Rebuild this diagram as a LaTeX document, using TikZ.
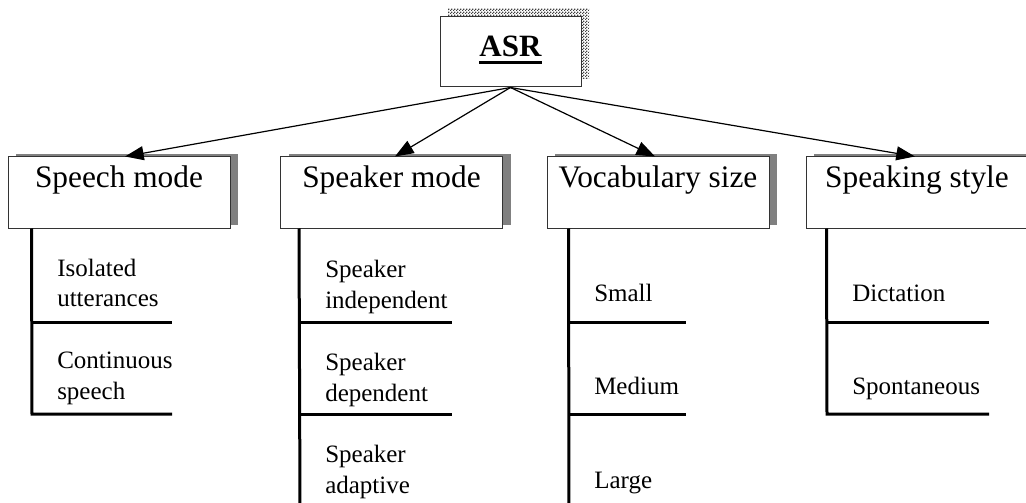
\documentclass[tikz,border=0pt]{standalone}
\usepackage{fontspec}
\setmainfont{Liberation Serif}
\usetikzlibrary{shadows,patterns.meta,arrows.meta,calc}

% fine checkerboard used for the shadow of the root box
\tikzdeclarepattern{
  name=ditherchecks,
  type=uncolored,
  bounding box={(0pt,0pt) and (2.25pt,2.25pt)},
  tile size={(2.25pt,2.25pt)},
  code={
    \pgfpathrectangle{\pgfpointorigin}{\pgfpoint{1.125pt}{1.125pt}}
    \pgfpathrectangle{\pgfpoint{1.125pt}{1.125pt}}{\pgfpoint{1.125pt}{1.125pt}}
    \pgfusepath{fill}
  }
}

\newcommand\twoline[2]{\vtop{\baselineskip=23.25pt\hbox{#1}\hbox{#2}}}
\newcommand\heavyul[1]{\vtop{\hbox{#1}\kern2.4pt\hrule height 2.7pt}}

\begin{document}
\begin{tikzpicture}[
  x=0.75pt, y=-0.75pt,
  rootbox/.style={draw=black!80, line width=0.75pt, fill=white, inner sep=0pt,
    minimum width=105.75pt, text height=30pt, text depth=22.5pt,
    font=\fontsize{23.25pt}{28pt}\selectfont\bfseries,
    general shadow={pattern=ditherchecks, pattern color=black!75,
      shadow xshift=6pt, shadow yshift=6pt}},
  catbox/.style={draw=black!80, line width=0.75pt, fill=white, inner sep=0pt,
    minimum width=166.5pt, text height=23.25pt, text depth=30pt,
    font=\fontsize{23.5pt}{28pt}\selectfont,
    general shadow={fill=black!50, shadow xshift=6pt, shadow yshift=2.25pt}},
  item/.style={anchor=base west, inner sep=0pt,
    font=\fontsize{18.75pt}{23.25pt}\selectfont},
  link/.style={line width=0.9pt, -{Triangle[length=14pt,width=10.5pt]}},
  branch/.style={line width=2.25pt}
]
\useasboundingbox (0,0) rectangle (1026,503);

% root
\node[rootbox, anchor=base] (asr) at (510.5,57) {\heavyul{ASR}};

% categories
\node[catbox, anchor=base] (speech)  at (119,188) {Speech mode};
\node[catbox, anchor=base] (speaker) at (391.5,188) {Speaker mode};
\node[catbox, anchor=base] (vocab)   at (658,188) {Vocabulary size};
\node[catbox, anchor=base] (style)   at (917,188) {Speaking style};

% arrows from the root
\draw[link] (asr.south) -- ([xshift=4.5pt]speech.north);
\draw[link] (asr.south) -- ([xshift=2.6pt]speaker.north);
\draw[link] (asr.south) -- ([xshift=-2.2pt]vocab.north);
\draw[link] (asr.south) -- ([xshift=-1.5pt]style.north);

% speech mode branch
\coordinate (s1) at (32,322);
\coordinate (s2) at (32,414);
\draw[branch] ([xshift=18pt]speech.south west) -- (s2) -- (172,414);
\draw[branch] (s1) -- (172,322);
\node[item] (iso)  at (57,276) {\twoline{Isolated}{utterances}};
\node[item] (cont) at (57,368) {\twoline{Continuous}{speech}};

% speaker mode branch
\coordinate (k1) at (300,322);
\coordinate (k2) at (300,414);
\coordinate (kend) at (300,510);
\draw[branch] ([xshift=14.25pt]speaker.south west) -- (kend);
\draw[branch] (k1) -- (452,322);
\draw[branch] (k2) -- (452,414);
\node[item] (indep) at (325,277) {\twoline{Speaker}{independent}};
\node[item] (dep)   at (325,370) {\twoline{Speaker}{dependent}};
\node[item] (adapt) at (325,462) {\twoline{Speaker}{adaptive}};

% vocabulary size branch
\coordinate (v1) at (569,322);
\coordinate (v2) at (569,414);
\coordinate (vend) at (569,510);
\draw[branch] ([xshift=16.5pt]vocab.south west) -- (vend);
\draw[branch] (v1) -- (686,322);
\draw[branch] (v2) -- (686,414);
\node[item] (small)  at (594,301) {Small};
\node[item] (medium) at (594,394) {Medium};
\node[item] (large)  at (594,488) {Large};

% speaking style branch
\coordinate (t1) at (827,322);
\coordinate (t2) at (827,414);
\draw[branch] ([xshift=15.75pt]style.south west) -- (t2) -- (989,414);
\draw[branch] (t1) -- (989,322);
\node[item] (dict)  at (852,301) {Dictation};
\node[item] (spont) at (852,394) {Spontaneous};
\end{tikzpicture}
\end{document}
